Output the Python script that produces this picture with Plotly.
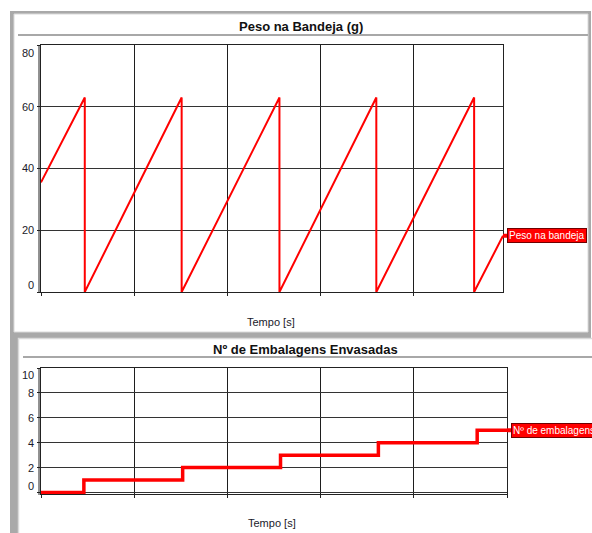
import plotly.graph_objects as go

# ---------------- data ----------------
# Top chart: weight on the tray (g) vs time (s)
tempo_peso = [0, 4.7, 4.7, 15.1, 15.1, 25.6, 25.6, 36.0, 36.0, 46.5, 46.5, 49.6]
peso = [35.5, 63, 0, 63, 0, 63, 0, 63, 0, 63, 0, 18.2]

# Bottom chart: number of packages filled vs time (s)
tempo_emb = [0, 4.6, 15.2, 25.7, 36.2, 46.8, 50.0]
embalagens = [0, 1, 2, 3, 4, 5, 5]

titulo_peso = "Peso na Bandeja (g)"
titulo_emb = "Nº de Embalagens Envasadas"
eixo_x = "Tempo [s]"
etiqueta_peso = "Peso na bandeja"
etiqueta_emb = "Nº de embalagens"

ticks_peso = [0, 20, 40, 60, 80]
ticks_emb = [0, 2, 4, 6, 8, 10]
ticks_tempo = [0, 10, 20, 30, 40, 50]

# ---------------- layout helpers ----------------
W, H = 592, 533
FONT = "Liberation Sans, Arial, sans-serif"
TICK_COLOR = "#1a1a2a"


def px(x):
    return x / W


def py(y):
    return 1 - y / H


fig = go.Figure()

fig.add_trace(go.Scatter(x=tempo_peso, y=peso, mode="lines",
                         line=dict(color="#ff0000", width=2),
                         xaxis="x", yaxis="y", showlegend=False,
                         hoverinfo="skip"))
fig.add_trace(go.Scatter(x=tempo_emb, y=embalagens, mode="lines",
                         line=dict(color="#ff0000", width=3.5, shape="hv"),
                         xaxis="x2", yaxis="y2", showlegend=False,
                         hoverinfo="skip"))

axis_common = dict(showgrid=True, zeroline=False, showline=True,
                   mirror=True, ticks="outside", ticklen=3,
                   tickcolor="#222", linecolor="#222", linewidth=1,
                   automargin=False, showticklabels=False)

fig.update_layout(
    width=W, height=H, autosize=False,
    margin=dict(l=0, r=0, t=0, b=0, pad=0, autoexpand=False),
    paper_bgcolor="white", plot_bgcolor="white",
    xaxis=dict(domain=[px(41), px(503)], anchor="y", range=[0, 49.6],
               tickvals=ticks_tempo, gridcolor="#1e1e1e", gridwidth=1,
               **axis_common),
    yaxis=dict(domain=[py(292), py(45)], anchor="x", range=[0, 80],
               tickvals=ticks_peso, gridcolor="#333", gridwidth=1,
               **axis_common),
    xaxis2=dict(domain=[px(41), px(507)], anchor="y2", range=[0, 50],
                tickvals=ticks_tempo, gridcolor="#1e1e1e", gridwidth=1,
                **axis_common),
    yaxis2=dict(domain=[py(494), py(368)], anchor="x2", range=[-0.12, 10],
                tickvals=ticks_emb, gridcolor="#333", gridwidth=1,
                **axis_common),
)

shapes = [
    # grey outer frame
    dict(type="rect", xref="paper", yref="paper", x0=px(10), x1=px(591),
         y0=py(533), y1=py(11), fillcolor="#a9a9a9", line=dict(width=0),
         layer="below"),
    # top panel
    dict(type="rect", xref="paper", yref="paper", x0=px(14), x1=px(588),
         y0=py(332), y1=py(14), fillcolor="white",
         line=dict(color="#dadada", width=1), layer="below"),
    # bottom panel
    dict(type="rect", xref="paper", yref="paper", x0=px(18.5), x1=px(600),
         y0=py(540), y1=py(338.5), fillcolor="white",
         line=dict(color="#dadada", width=1.5), layer="below"),
    # title separator lines
    dict(type="line", xref="paper", yref="paper", x0=px(18), x1=px(588),
         y0=py(35), y1=py(35), line=dict(color="#a8a8a8", width=2),
         layer="below"),
    dict(type="line", xref="paper", yref="paper", x0=px(23), x1=px(592),
         y0=py(357), y1=py(357), line=dict(color="#a8a8a8", width=2),
         layer="below"),
    # double left axis line
    dict(type="line", xref="paper", yref="paper", x0=px(39), x1=px(39),
         y0=py(293), y1=py(45), line=dict(color="#222", width=1)),
    dict(type="line", xref="paper", yref="paper", x0=px(39), x1=px(39),
         y0=py(495), y1=py(368), line=dict(color="#222", width=1)),
]
fig.update_layout(shapes=shapes)

annotations = [
    dict(text="<b>" + titulo_peso + "</b>", xref="paper", yref="paper",
         x=px(301), y=py(26), xanchor="center", yanchor="middle",
         showarrow=False, font=dict(family=FONT, size=13, color="#111")),
    dict(text="<b>" + titulo_emb + "</b>", xref="paper", yref="paper",
         x=px(305), y=py(349), xanchor="center", yanchor="middle",
         showarrow=False, font=dict(family=FONT, size=13, color="#111")),
    dict(text=eixo_x, xref="paper", yref="paper", x=px(271), y=py(322),
         xanchor="center", yanchor="middle", showarrow=False,
         font=dict(family=FONT, size=11, color=TICK_COLOR)),
    dict(text=eixo_x, xref="paper", yref="paper", x=px(272), y=py(523),
         xanchor="center", yanchor="middle", showarrow=False,
         font=dict(family=FONT, size=11, color=TICK_COLOR)),
    dict(text=etiqueta_peso, xref="x", yref="y", x=tempo_peso[-1],
         y=peso[-1], showarrow=True, ax=4, ay=0, arrowhead=0,
         arrowwidth=4, arrowcolor="#ff0000", standoff=0, xanchor="left",
         bgcolor="#ff0000", bordercolor="#700000", borderwidth=1,
         borderpad=1, font=dict(family=FONT, size=10, color="white")),
    dict(text=etiqueta_emb, xref="x2", yref="y2", x=tempo_emb[-1],
         y=embalagens[-1], showarrow=True, ax=4, ay=0, arrowhead=0,
         arrowwidth=4, arrowcolor="#ff0000", standoff=0, xanchor="left",
         bgcolor="#ff0000", bordercolor="#700000", borderwidth=1,
         borderpad=1, font=dict(family=FONT, size=10, color="white")),
]


# y tick labels (edge labels nudged inside the plot, as in the original)
def tick_labels(vals, yref, top_shift, bottom_shift):
    out = []
    lo, hi = min(vals), max(vals)
    for v in vals:
        shift = 0
        if v == hi:
            shift = top_shift
        elif v == lo:
            shift = bottom_shift
        out.append(dict(text=str(v), xref="paper", yref=yref, x=px(35.5),
                        y=v, xanchor="right", yanchor="middle",
                        yshift=shift, showarrow=False,
                        font=dict(family=FONT, size=11, color=TICK_COLOR)))
    return out


annotations += tick_labels(ticks_peso, "y", -8, 7)
annotations += tick_labels(ticks_emb, "y2", -7, 7)
fig.update_layout(annotations=annotations)

fig.write_html("out.html",
               config={"responsive": False, "displayModeBar": False},
               post_script="document.body.style.margin='0px';"
                           "document.body.style.overflow='hidden';")
